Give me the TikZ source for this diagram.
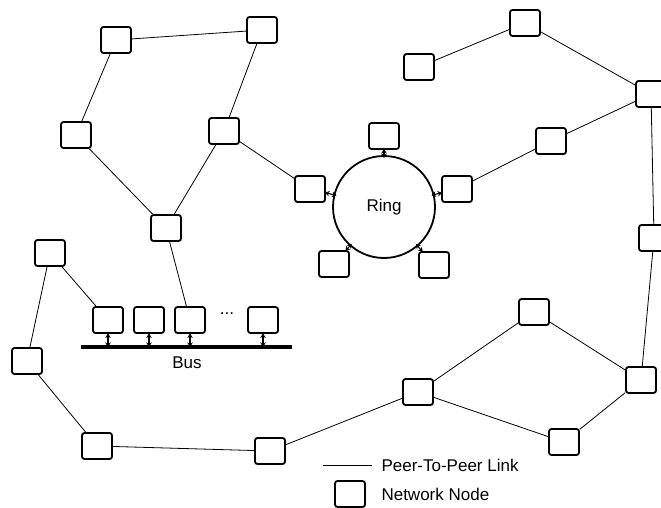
\documentclass[tikz,border=0pt]{standalone}
\usepackage{fontspec}
\setmainfont{Liberation Sans}
\usetikzlibrary{arrows.meta}
\tikzset{
  netnode/.style={rectangle, draw, line width=1.8pt, rounded corners=2.5pt, minimum width=30pt, minimum height=26pt, inner sep=0pt},
  link/.style={line width=0.8pt},
  biarrow/.style={{Stealth[length=4.5pt, width=5.5pt]}-{Stealth[length=4.5pt, width=5.5pt]}, line width=1.1pt},
  label/.style={font=\fontsize{17}{20}\selectfont},
}

\begin{document}
\begin{tikzpicture}[x=1pt, y=-1pt]
  \useasboundingbox (0,0) rectangle (661,508);

  % upper left mesh
  \node[netnode] (a1) at (116, 40) {};
  \node[netnode] (a2) at (262, 30) {};
  \node[netnode] (a3) at (76, 135) {};
  \node[netnode] (a4) at (224, 131) {};
  \node[netnode] (a5) at (166, 228) {};

  % Ring
  \node[circle, draw, line width=1.8pt, minimum size=102pt, inner sep=0pt, label] (ring) at (384, 207) {Ring};
  \node[netnode] (r1) at (310, 189) {};
  \node[netnode] (r2) at (384, 136) {};
  \node[netnode] (r3) at (457, 189) {};
  \node[netnode] (r4) at (334, 264) {};
  \node[netnode] (r5) at (434, 265) {};
  \foreach \i in {1,...,5} { \draw[biarrow, shorten <=-3pt, shorten >=-1pt] (ring) -- (r\i); }

  % upper right
  \node[netnode] (c1) at (419, 67) {};
  \node[netnode] (c2) at (525, 23) {};
  \node[netnode] (c3) at (651, 94) {};
  \node[netnode] (c4) at (551, 141) {};
  \node[netnode] (c5) at (654, 238) {};

  % Bus
  \node[netnode] (l1) at (50, 253) {};
  \foreach \i/\x in {1/108, 2/149, 3/190, 4/263} {
    \node[netnode] (b\i) at (\x, 320) {};
  }
  \node[label] (dots) at (227, 314) {...};
  \coordinate (busL) at (81, 347);
  \coordinate (busR) at (292, 347);
  \draw[line width=3.5pt] (busL) -- (busR);
  \foreach \i in {1,...,4} { \draw[biarrow, shorten <=-0.5pt] (b\i.south) -- (b\i.south |- busL); }
  \node[label] (buslabel) at (187, 363) {Bus};

  % lower loop
  \node[netnode] (m1) at (27, 361) {};
  \node[netnode] (m2) at (97, 446) {};
  \node[netnode] (m3) at (270, 451) {};
  \node[netnode] (m4) at (418, 392) {};
  \node[netnode] (m5) at (534, 312) {};
  \node[netnode] (m6) at (641, 380) {};
  \node[netnode] (m7) at (564, 442) {};

  % peer-to-peer links
  \foreach \u/\v in {a1/a2, a1/a3, a2/a4, a3/a5, a4/a5, a4/r1, a5/b3,
                     r3/c4, c4/c3, c1/c2, c2/c3, c3/c5, c5/m6,
                     m6/m5, m6/m7, m5/m4, m7/m4, m4/m3, m3/m2, m2/m1, m1/l1, l1/b1} {
    \draw[link] (\u) -- (\v);
  }

  % legend
  \coordinate (legA) at (323, 465);
  \coordinate (legB) at (372, 465);
  \draw[link] (legA) -- (legB);
  \node[label, anchor=west] (leglink) at (378, 465) {Peer-To-Peer Link};
  \node[netnode] (legnode) at (350, 494) {};
  \node[label, anchor=west] (legnodetext) at (378, 494) {Network Node};
\end{tikzpicture}
\end{document}
